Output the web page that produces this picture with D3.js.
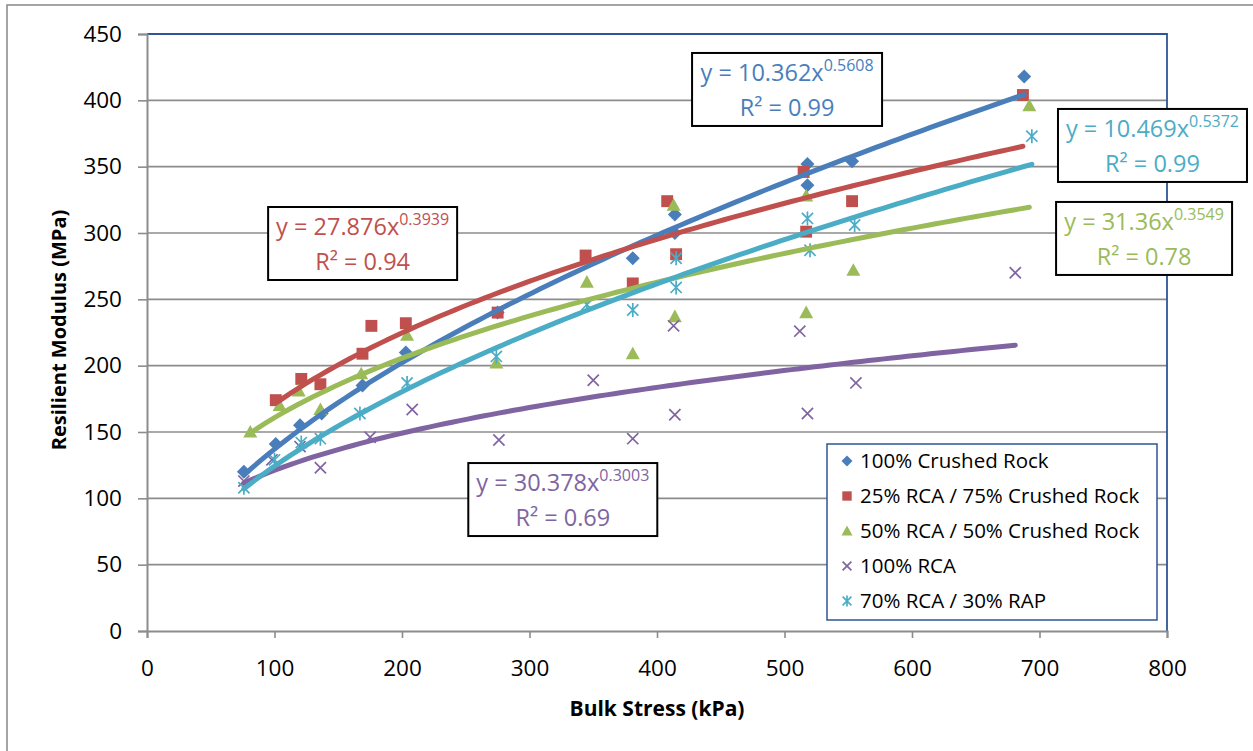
<!DOCTYPE html>
<html><head><meta charset="utf-8">
<script src="https://cdn.jsdelivr.net/npm/d3@7"></script>
<style>body{margin:0;background:#fff}svg{display:block}text{font-family:"Open Sans",sans-serif}</style>
</head><body><svg id="c" width="1253" height="751"></svg>
<script>
// ---- data ----
const seriesNames = ["100% Crushed Rock","25% RCA / 75% Crushed Rock","50% RCA / 50% Crushed Rock","100% RCA","70% RCA / 30% RAP"];
const seriesColors = ["#4A7EBB","#C0504D","#9BBB59","#8064A2","#4BACC6"];
const seriesMarkers = ["diamond","square","triangle","x","star"];

const crushedX = [76,101,120,137,169,203,275,381,414,414,518,518,553,688];
const crushedY = [120,141,155,164,185,210,240,281,314,300,352,336,354,418];
const rca25X = [101,121,136,169,176,203,275,344,381,408,415,515,517,553,687];
const rca25Y = [174,190,186,209,230,232,240,283,262,324,284,346,301,324,404];
const rca50X = [81,104,119,136,168,204,274,345,381,413,414,517,517,554,692];
const rca50Y = [150,170,181,167,194,223,202,263,209,321,237,328,240,272,396];
const rca100X = [76,98,120,136,175,208,276,350,381,413,414,512,518,556,681];
const rca100Y = [113,129,139,123,146,167,144,189,145,230,163,226,164,187,270];
const rapX = [76,100,121,136,167,204,274,345,381,415,415,518,520,555,694];
const rapY = [108,129,142,145,164,187,207,246,242,281,259,311,287,306,373];

// power trendlines y = a x^b, as printed on the chart
const fitA = [10.362, 27.876, 31.36, 30.378, 10.469];
const fitB = [0.5608, 0.3939, 0.3549, 0.3003, 0.5372];
const fitA_txt = ["10.362","27.876","31.36","30.378","10.469"];
const fitB_txt = ["0.5608","0.3939","0.3549","0.3003","0.5372"];
const fitR2 = ["0.99","0.94","0.78","0.69","0.99"];

const xTicks = [0,100,200,300,400,500,600,700,800];
const yTicks = [0,50,100,150,200,250,300,350,400,450];

// ---- layout ----
const svg = d3.select("#c");
const x = d3.scaleLinear([0,800],[147,1167]);
const y = d3.scaleLinear([0,450],[631,34]);
const series = [[crushedX,crushedY],[rca25X,rca25Y],[rca50X,rca50Y],[rca100X,rca100Y],[rapX,rapY]];

// outer chart border
svg.append("rect").attr("x",7).attr("y",5).attr("width",1260).attr("height",760)
  .attr("fill","none").attr("stroke","#868686").attr("stroke-width",1.5);

// gridlines
svg.append("g").selectAll("line").data(yTicks.filter(d=>d>0 && d<450)).join("line")
  .attr("x1",x(0)).attr("x2",x(800)).attr("y1",d=>y(d)).attr("y2",d=>y(d))
  .attr("stroke","#8c8c8c").attr("stroke-width",1.6);

// plot border top/right
svg.append("path").attr("d",`M${x(0)},${y(450)}H${x(800)}V${y(0)}`)
  .attr("fill","none").attr("stroke","#2F5597").attr("stroke-width",1.8);

// axes
const yAxis = svg.append("g").attr("transform",`translate(${x(0)},0)`)
  .call(d3.axisLeft(y).tickValues(yTicks).tickSize(9).tickPadding(16).tickFormat(d3.format("d")));
const xAxis = svg.append("g").attr("transform",`translate(0,${y(0)})`)
  .call(d3.axisBottom(x).tickValues(xTicks).tickSize(7).tickPadding(22).tickFormat(d3.format("d")));
[yAxis,xAxis].forEach(g=>{
  g.select(".domain").attr("stroke","#8c8c8c").attr("stroke-width",2);
  g.selectAll(".tick line").attr("stroke","#8c8c8c").attr("stroke-width",1.6);
  g.selectAll("text").attr("fill","#000").style("font-size","22.5px").style("font-family","'Open Sans',sans-serif");
});

// axis titles
svg.append("text").attr("x",657).attr("y",716).attr("text-anchor","middle")
  .style("font-size","21px").style("font-weight","bold").text("Bulk Stress (kPa)");
svg.append("text").attr("transform","translate(66,330) rotate(-90)").attr("text-anchor","middle")
  .style("font-size","20px").style("font-weight","bold").text("Resilient Modulus (MPa)");

// markers
function marker(g, type, color, s){
  if(type==="diamond") g.append("path").attr("d",`M0,${-s}L${s},0L0,${s}L${-s},0Z`).attr("fill",color);
  else if(type==="square") g.append("rect").attr("x",-s*0.85).attr("y",-s*0.85).attr("width",s*1.7).attr("height",s*1.7).attr("fill",color);
  else if(type==="triangle") g.append("path").attr("d",`M0,${-s}L${s},${s*0.8}L${-s},${s*0.8}Z`).attr("fill",color);
  else if(type==="x") g.append("path").attr("d",`M${-s*0.8},${-s*0.8}L${s*0.8},${s*0.8}M${s*0.8},${-s*0.8}L${-s*0.8},${s*0.8}`).attr("stroke",color).attr("stroke-width",1.7).attr("fill","none");
  else if(type==="star") g.append("path").attr("d",`M${-s*0.8},${-s*0.8}L${s*0.8},${s*0.8}M${s*0.8},${-s*0.8}L${-s*0.8},${s*0.8}M0,${-s}V${s}`).attr("stroke",color).attr("stroke-width",1.7).attr("fill","none");
}

series.forEach(([xs,ys],i)=>{
  const g = svg.append("g");
  xs.forEach((xv,j)=>{
    const m = g.append("g").attr("transform",`translate(${x(xv)},${y(ys[j])})`);
    marker(m, seriesMarkers[i], seriesColors[i], 7);
  });
});

// trendlines
const line = d3.line().x(d=>x(d[0])).y(d=>y(d[1])).curve(d3.curveLinear);
series.forEach(([xs],i)=>{
  const x0 = d3.min(xs), x1 = d3.max(xs);
  const pts = d3.range(0,101).map(k=>{const xv = x0+(x1-x0)*k/100; return [xv, fitA[i]*Math.pow(xv,fitB[i])];});
  svg.append("path").attr("d",line(pts)).attr("fill","none")
    .attr("stroke",seriesColors[i]).attr("stroke-width",5).attr("stroke-linecap","round");
});

// equation label boxes (anchored in data units: left/top)
const boxLeft = [427.5, 95, 713, 252, 714.5];
const boxTop  = [435.7, 319.6, 323.4, 126.6, 393.5];
const boxW    = [190, 189, 176, 189, 189];
seriesNames.forEach((n,i)=>{
  const bx = x(boxLeft[i]), by = y(boxTop[i]), w = boxW[i], h = 73;
  const g = svg.append("g");
  g.append("rect").attr("x",bx).attr("y",by).attr("width",w).attr("height",h)
    .attr("fill","#fff").attr("stroke","#000").attr("stroke-width",2);
  const t1 = g.append("text").attr("x",bx+w/2).attr("y",by+28).attr("text-anchor","middle")
    .attr("fill",seriesColors[i]).style("font-size","23.5px");
  t1.append("tspan").text(`y = ${fitA_txt[i]}x`);
  t1.append("tspan").attr("dy",-10).style("font-size","16px").text(fitB_txt[i]);
  g.append("text").attr("x",bx+w/2).attr("y",by+63).attr("text-anchor","middle")
    .attr("fill",seriesColors[i]).style("font-size","23.5px").text(`R² = ${fitR2[i]}`);
});

// legend
const lg = svg.append("g");
lg.append("rect").attr("x",827).attr("y",444).attr("width",330).attr("height",176)
  .attr("fill","#fff").attr("stroke","#2F5597").attr("stroke-width",1.5);
seriesNames.forEach((n,i)=>{
  const cy = 461 + i*35;
  const m = lg.append("g").attr("transform",`translate(847,${cy})`);
  marker(m, seriesMarkers[i], seriesColors[i], 5.5);
  lg.append("text").attr("x",860).attr("y",cy+7).style("font-size","20.5px").attr("fill","#000").text(n);
});
</script></body></html>
